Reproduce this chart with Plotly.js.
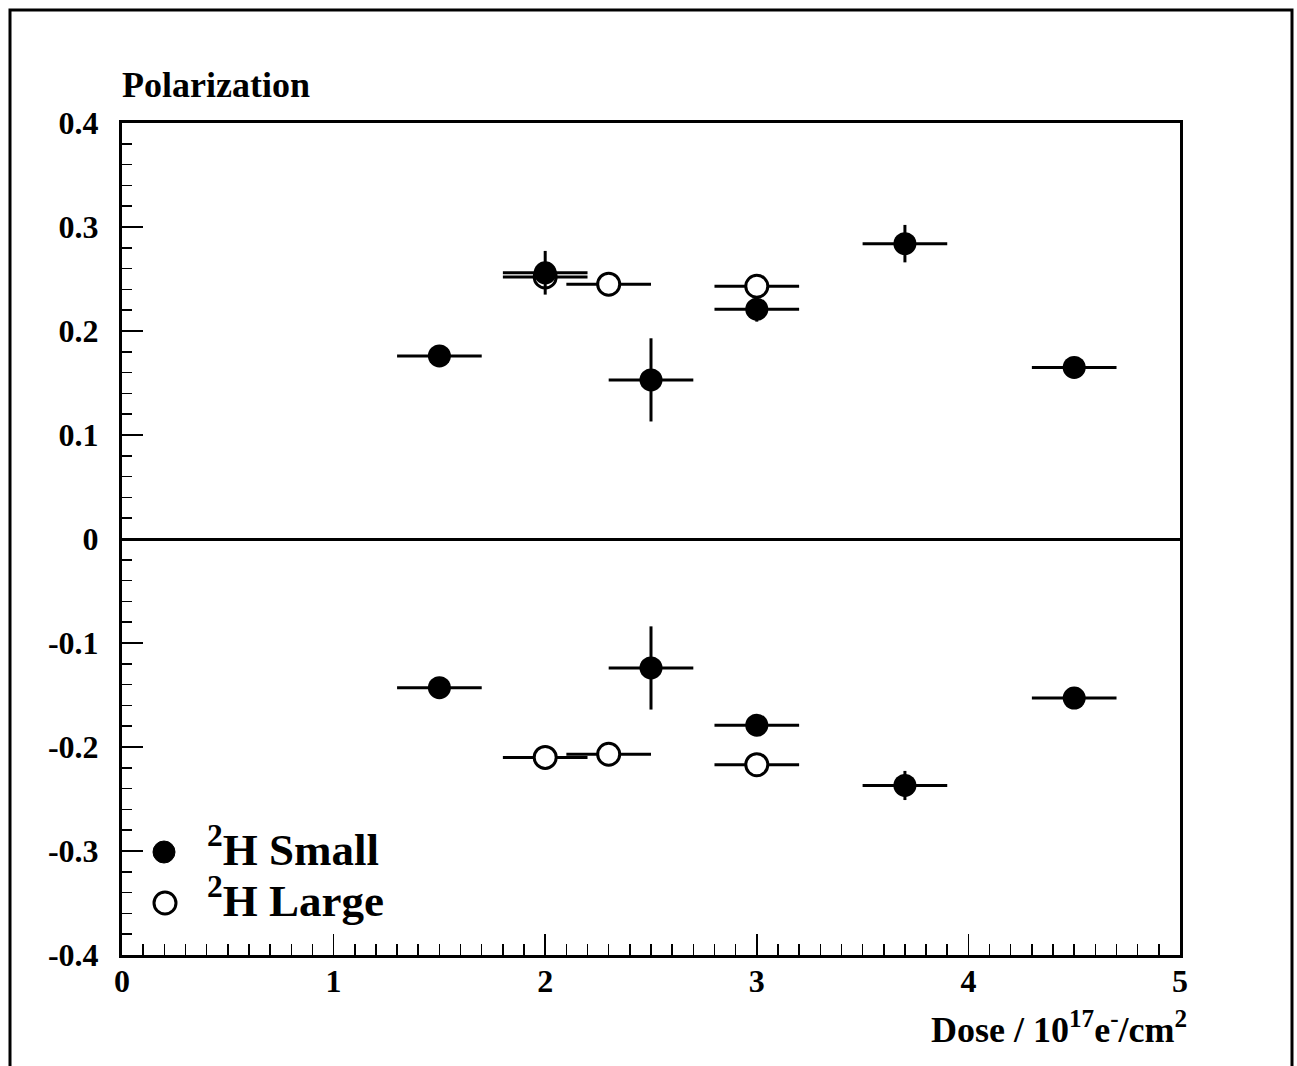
<!DOCTYPE html>
<html>
<head>
<meta charset="utf-8">
<script src="https://cdn.plot.ly/plotly-3.0.1.min.js"></script>
<style>html,body{margin:0;padding:0;background:#fff;}#chart{width:1297px;height:1066px;}</style>
</head>
<body>
<div id="chart"></div>
<script>
// ---- data ----
const smallDose = [1.5, 2.0, 2.5, 3.0, 3.7, 4.5, 1.5, 2.5, 3.0, 3.7, 4.5];
const smallPol  = [0.176, 0.256, 0.153, 0.221, 0.284, 0.165, -0.143, -0.124, -0.179, -0.237, -0.153];
const smallPolErr  = [0.008, 0.021, 0.040, 0.012, 0.018, 0.008, 0.008, 0.040, 0.008, 0.014, 0.008];
const smallDoseErr = [0.2, 0.2, 0.2, 0.2, 0.2, 0.2, 0.2, 0.2, 0.2, 0.2, 0.2];

const largeDose = [2.0, 2.3, 3.0, 2.0, 2.3, 3.0];
const largePol  = [0.252, 0.245, 0.243, -0.210, -0.207, -0.217];
const largePolErr  = [0.008, 0.008, 0.008, 0.008, 0.008, 0.008];
const largeDoseErr = [0.2, 0.2, 0.2, 0.2, 0.2, 0.2];

const yTickVals = [-0.4, -0.3, -0.2, -0.1, 0, 0.1, 0.2, 0.3, 0.4];
const yTickText = ['-0.4', '-0.3', '-0.2', '-0.1', '0', '0.1', '0.2', '0.3', '0.4'];
const xTickVals = [0, 1, 2, 3, 4, 5];
const xTickText = ['0', '1', '2', '3', '4', '5'];

const seriesNames = ['<sup>2</sup>H Small', '<sup>2</sup>H Large'];

// ---- chart ----
const FONT = 'Liberation Serif, Times New Roman, serif';
const ebStyle = {color: '#000', thickness: 3, width: 0};

const traces = [
  {
    type: 'scatter', mode: 'markers', name: seriesNames[1],
    x: largeDose, y: largePol,
    error_x: Object.assign({type: 'data', array: largeDoseErr, visible: true}, ebStyle),
    error_y: Object.assign({type: 'data', array: largePolErr, visible: true}, ebStyle),
    marker: {symbol: 'circle', size: 22, color: '#fff', line: {color: '#000', width: 3}},
    showlegend: false
  },
  {
    type: 'scatter', mode: 'markers', name: seriesNames[0],
    x: smallDose, y: smallPol,
    error_x: Object.assign({type: 'data', array: smallDoseErr, visible: true}, ebStyle),
    error_y: Object.assign({type: 'data', array: smallPolErr, visible: true}, ebStyle),
    marker: {symbol: 'circle', size: 23, color: '#000', line: {width: 0}},
    showlegend: false
  }
];

const W = 1297, H = 1066;
const L = 122, R = 1180, T = 123, B = 955;
const px2x = p => (p - L) / (R - L);
const px2y = p => (B - p) / (B - T);

const layout = {
  width: W, height: H,
  margin: {l: L, r: W - R, t: T, b: H - B, pad: 0},
  paper_bgcolor: '#fff', plot_bgcolor: '#fff',
  showlegend: false,
  font: {family: FONT, color: '#000'},
  xaxis: {
    range: [0, 5], tickvals: xTickVals, ticktext: xTickText,
    ticks: 'inside', ticklen: 21, tickwidth: 1.5, tickcolor: '#000',
    minor: {dtick: 0.1, tick0: 0, ticks: 'inside', ticklen: 11, tickwidth: 1.5, tickcolor: '#000', showgrid: false},
    showline: true, linewidth: 3, linecolor: '#000', mirror: true,
    showgrid: false, zeroline: false,
    tickfont: {family: FONT, size: 32, weight: 'bold', color: '#000'},
    ticklabelstandoff: -4
  },
  yaxis: {
    range: [-0.4, 0.4], tickvals: yTickVals, ticktext: yTickText,
    ticks: 'inside', ticklen: 21, tickwidth: 1.5, tickcolor: '#000',
    minor: {dtick: 0.02, tick0: 0, ticks: 'inside', ticklen: 10, tickwidth: 1.5, tickcolor: '#000', showgrid: false},
    showline: true, linewidth: 3, linecolor: '#000', mirror: true,
    showgrid: false,
    zeroline: true, zerolinecolor: '#000', zerolinewidth: 3,
    tickfont: {family: FONT, size: 32, weight: 'bold', color: '#000'},
    ticklabelstandoff: 14
  },
  shapes: [
    {type: 'rect', xref: 'paper', yref: 'paper',
     x0: px2x(10), x1: px2x(1292), y0: px2y(1120), y1: px2y(10),
     line: {color: '#000', width: 3}, fillcolor: 'rgba(0,0,0,0)', layer: 'below'},
    // legend symbols
    {type: 'circle', xref: 'paper', yref: 'paper', xsizemode: 'pixel', ysizemode: 'pixel',
     xanchor: px2x(164), yanchor: px2y(852), x0: -11, x1: 11, y0: -11, y1: 11,
     fillcolor: '#000', line: {color: '#000', width: 1}},
    {type: 'circle', xref: 'paper', yref: 'paper', xsizemode: 'pixel', ysizemode: 'pixel',
     xanchor: px2x(165), yanchor: px2y(903), x0: -11, x1: 11, y0: -11, y1: 11,
     fillcolor: '#fff', line: {color: '#000', width: 3}}
  ],
  annotations: [
    {text: 'Polarization', xref: 'paper', yref: 'paper', x: px2x(120), y: px2y(107),
     xanchor: 'left', yanchor: 'bottom', showarrow: false,
     font: {family: FONT, size: 36, weight: 'bold', color: '#000'}},
    {text: 'Dose / 10<sup>17</sup>e<sup>-</sup>/cm<sup>2</sup>', xref: 'paper', yref: 'paper',
     x: px2x(1189), y: px2y(1052), xanchor: 'right', yanchor: 'bottom', showarrow: false,
     font: {family: FONT, size: 36, weight: 'bold', color: '#000'}},
    {text: seriesNames[0], xref: 'paper', yref: 'paper', x: px2x(205), y: px2y(877),
     xanchor: 'left', yanchor: 'bottom', showarrow: false,
     font: {family: FONT, size: 45, weight: 'bold', color: '#000'}},
    {text: seriesNames[1], xref: 'paper', yref: 'paper', x: px2x(205), y: px2y(928),
     xanchor: 'left', yanchor: 'bottom', showarrow: false,
     font: {family: FONT, size: 45, weight: 'bold', color: '#000'}}
  ]
};

Plotly.newPlot('chart', traces, layout, {displayModeBar: false, staticPlot: true});
</script>
</body>
</html>
